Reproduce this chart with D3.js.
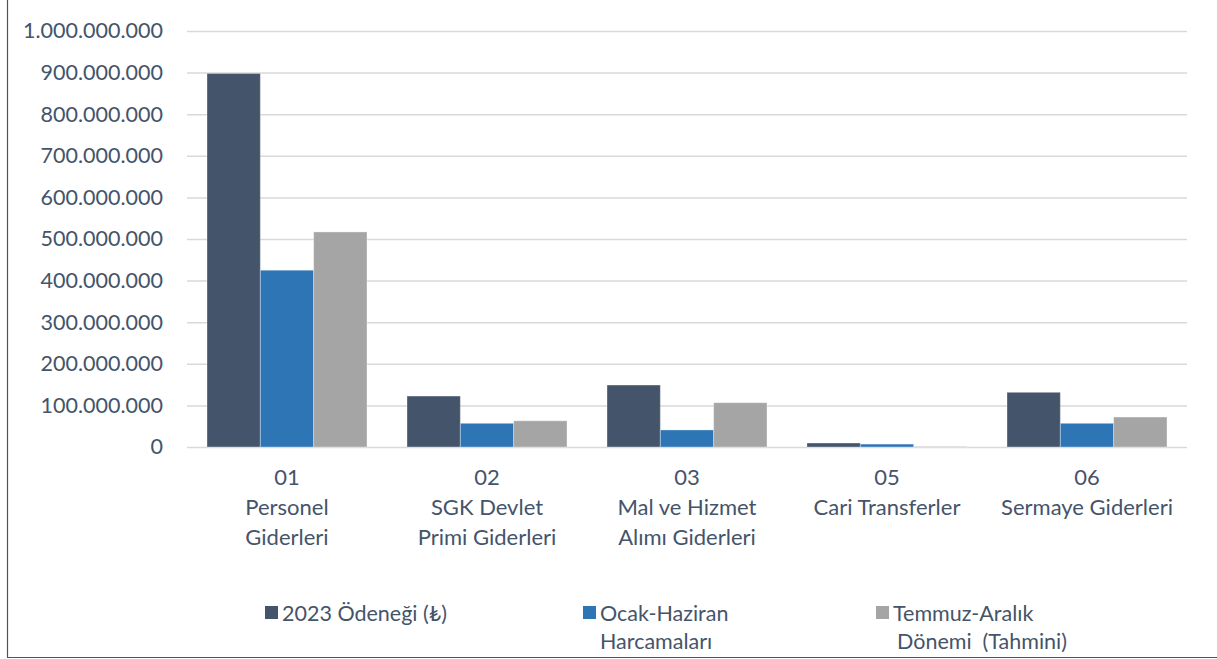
<!DOCTYPE html>
<html><head><meta charset="utf-8">
<script src="https://cdn.jsdelivr.net/npm/d3@7"></script>
<style>
html,body{margin:0;padding:0;background:#fff;}
svg{display:block;}
text{font-family:Lato,"Open Sans","DejaVu Sans",sans-serif;fill:#44546A;white-space:pre;}
</style></head>
<body><svg id="c" width="1217" height="659"></svg>
<script>
const categories = ["01|Personel|Giderleri","02|SGK Devlet|Primi Giderleri","03|Mal ve Hizmet|Alımı Giderleri","05|Cari Transferler","06|Sermaye Giderleri"];
const seriesNames = ["2023 Ödeneği (₺)","Ocak-Haziran|Harcamaları","Temmuz-Aralık|Dönemi  (Tahmini)"];
const odenek2023 = [898000000,122500000,149000000,9600000,131500000];
const ocakHaziran = [425000000,57000000,41000000,7000000,57000000];
const temmuzAralik = [517000000,63000000,106500000,1000000,72000000];
const yTicks = [0,100000000,200000000,300000000,400000000,500000000,600000000,700000000,800000000,900000000,1000000000];
const colors = ["#44546A","#2E75B6","#A5A5A5"];

const series = [odenek2023, ocakHaziran, temmuzAralik];
const svg = d3.select("#c");
const x0 = d3.scaleBand().domain(categories).range([187,1187]).paddingInner(0.2).paddingOuter(0.1);
const x1 = d3.scaleBand().domain([0,1,2]).range([0,x0.bandwidth()]);
const y = d3.scaleLinear().domain([0,1000000000]).range([447,31]);
const fmt = v => d3.format(",")(v).replace(/,/g,".");

// borders
svg.append("line").attr("x1",7.5).attr("x2",7.5).attr("y1",0).attr("y2",657).attr("stroke","#44546A").attr("stroke-width",1.2);
svg.append("line").attr("x1",7).attr("x2",1217).attr("y1",657.5).attr("y2",657.5).attr("stroke","#44546A").attr("stroke-width",1.2);

// grid
const yAxis = d3.axisLeft(y).tickValues(yTicks).tickSize(-1000).tickFormat(fmt);
const gy = svg.append("g").attr("transform","translate(1187,0)").call(yAxis);
gy.select(".domain").remove();
gy.selectAll(".tick line").attr("stroke","#D9D9D9").attr("stroke-width",1.5).attr("transform","translate(-1000,0)").attr("x2",1000);
gy.selectAll(".tick text").attr("x",-1000-24).style("font-size","21.5px").attr("fill","#44546A");

// bars
const g = svg.append("g");
categories.forEach((c,i)=>{
  series.forEach((s,j)=>{
    g.append("rect").attr("x",x0(c)+x1(j)).attr("y",y(s[i])).attr("width",x1.bandwidth()).attr("height",y(0)-y(s[i]))
     .attr("fill",colors[j]).attr("stroke","#fff").attr("stroke-opacity",0.35).attr("stroke-width",1);
  });
});

// x labels
const xAxis = d3.axisBottom(x0).tickSize(0).tickFormat("");
svg.append("g").attr("transform","translate(0,447)").call(xAxis).select(".domain").remove();
categories.forEach(c=>{
  const lines = c.split("|");
  const t = svg.append("text").attr("x",x0(c)+x0.bandwidth()/2).attr("y",485).attr("text-anchor","middle").style("font-size","22px");
  lines.forEach((l,k)=>t.append("tspan").attr("x",x0(c)+x0.bandwidth()/2).attr("dy",k?30:0).text(l));
});

// legend
const legX = [265,583,876];
const legTX = [282,600,893];
seriesNames.forEach((n,j)=>{
  svg.append("rect").attr("x",legX[j]).attr("y",606).attr("width",13).attr("height",13).attr("fill",colors[j]);
  const t = svg.append("text").attr("y",621).style("font-size","21.5px");
  n.split("|").forEach((l,k)=>t.append("tspan").attr("x",legTX[j]+(k&&j==2?4:0)).attr("dy",k?28:0).text(l));
});
</script></body></html>
